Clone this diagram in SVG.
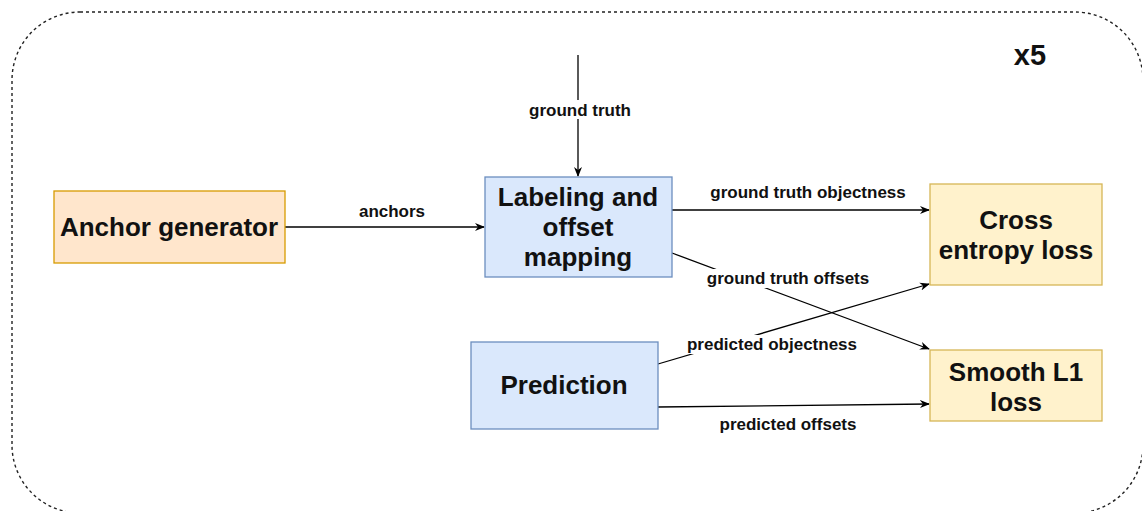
<svg xmlns="http://www.w3.org/2000/svg" width="1142" height="511" viewBox="0 0 1142 511">
<style>
.node text{font-family:"Liberation Sans",Arial,sans-serif;font-weight:bold;font-size:26px;fill:#111;text-anchor:middle}
.lbl{font-family:"Liberation Sans",Arial,sans-serif;font-weight:bold;font-size:17px;fill:#111;text-anchor:middle}
.edge{stroke:#000;stroke-width:1.3;fill:none;marker-end:url(#arr)}
.orange{fill:#ffe6cc;stroke:#d79b00;stroke-width:1.3}
.blue{fill:#dae8fc;stroke:#6c8ebf;stroke-width:1.3}
.yellow{fill:#fff2cc;stroke:#d6b656;stroke-width:1.3}
</style>
<defs>
<marker id="arr" viewBox="0 0 10 10" refX="9" refY="5" markerWidth="10" markerHeight="10" markerUnits="userSpaceOnUse" orient="auto">
<path d="M0,1 L10,5 L0,9 L3,5 Z" fill="#000"/>
</marker>
</defs>
<rect width="1142" height="511" fill="#fff"/>
<rect id="frame" x="12" y="12" width="1131" height="501" rx="68" ry="68" fill="none" stroke="#222" stroke-width="1.4" stroke-dasharray="3 3"/>
<text x="1030" y="65" style="font-family:'Liberation Sans',Arial,sans-serif;font-weight:bold;font-size:29px;fill:#111" text-anchor="middle">x5</text>
<g id="connectors">
<path class="edge" d="M578,55 L578,176"/>
<rect x="527" y="100" width="106" height="19" fill="#fff"/>
<text class="lbl" x="580" y="116">ground truth</text>
<path class="edge" d="M285,227 L484,227"/>
<text class="lbl" x="392" y="217">anchors</text>
<path class="edge" d="M672,210 L929,210"/>
<text class="lbl" x="808" y="198">ground truth objectness</text>
<path class="edge" d="M672,253 L929,349"/>
<path class="edge" d="M658,364 L929,284"/>
<rect x="705" y="269" width="166" height="19" fill="#fff"/>
<text class="lbl" x="788" y="284">ground truth offsets</text>
<rect x="685" y="335" width="174" height="19" fill="#fff"/>
<text class="lbl" x="772" y="350">predicted objectness</text>
<path class="edge" d="M658,407 L929,404"/>
<text class="lbl" x="788" y="430">predicted offsets</text>
</g>
<g id="anchor-generator" class="node">
<rect class="orange" x="54" y="191" width="231" height="72"/>
<text x="169" y="236">Anchor generator</text>
</g>
<g id="labeling" class="node">
<rect class="blue" x="485" y="177" width="187" height="100"/>
<text x="578" y="206">Labeling and</text>
<text x="578" y="236">offset</text>
<text x="578" y="266">mapping</text>
</g>
<g id="prediction" class="node">
<rect class="blue" x="471" y="342" width="187" height="87"/>
<text x="564" y="394">Prediction</text>
</g>
<g id="cross-entropy" class="node">
<rect class="yellow" x="930" y="184" width="172" height="101"/>
<text x="1016" y="229">Cross</text>
<text x="1016" y="259">entropy loss</text>
</g>
<g id="smooth-l1" class="node">
<rect class="yellow" x="930" y="350" width="172" height="71"/>
<text x="1016" y="381">Smooth L1</text>
<text x="1016" y="411">loss</text>
</g>
</svg>
